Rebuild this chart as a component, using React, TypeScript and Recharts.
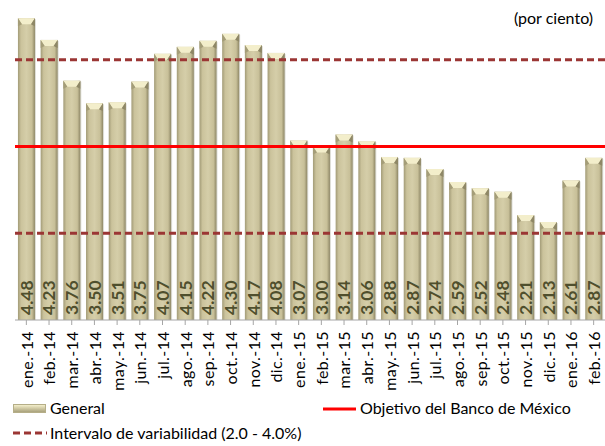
import { Bar, BarChart, LabelList, ReferenceLine, XAxis, YAxis } from "recharts";

const months = [
  "ene.-14", "feb.-14", "mar.-14", "abr.-14", "may.-14", "jun.-14", "jul.-14",
  "ago.-14", "sep.-14", "oct.-14", "nov.-14", "dic.-14", "ene.-15", "feb.-15",
  "mar.-15", "abr.-15", "may.-15", "jun.-15", "jul.-15", "ago.-15", "sep.-15",
  "oct.-15", "nov.-15", "dic.-15", "ene.-16", "feb.-16",
];
const general = [
  4.48, 4.23, 3.76, 3.5, 3.51, 3.75, 4.07, 4.15, 4.22, 4.3, 4.17, 4.08, 3.07,
  3.0, 3.14, 3.06, 2.88, 2.87, 2.74, 2.59, 2.52, 2.48, 2.21, 2.13, 2.61, 2.87,
];
const target = 3.0;
const band = [2.0, 4.0];

const data = months.map((month, i) => ({ month, general: general[i] }));

const FONT = "Lato, 'Open Sans', sans-serif";

// barra con efecto biselado, imitando el estilo de Excel
function BevelBar(props: any) {
  const { x, y, width, height } = props;
  if (!height || height <= 0) return null;
  const bev = Math.min(6, height);
  return (
    <g>
      <rect x={x + 1} y={y + 1} width={width} height={height - 1} fill="#bdbdb0" opacity={0.5} />
      <rect x={x} y={y} width={width} height={height} fill="url(#barGrad)" />
      <path
        d={`M${x},${y} L${x + width},${y} L${x + width - 4},${y + bev} L${x + 4},${y + bev} Z`}
        fill="#f3eecb"
      />
      <path d={`M${x},${y} L${x + 4},${y + bev} L${x},${y + bev + 2} Z`} fill="#a49d78" />
      <path
        d={`M${x + width},${y} L${x + width - 4},${y + bev} L${x + width},${y + bev + 2} Z`}
        fill="#8e8766"
      />
    </g>
  );
}

function ValueLabel(props: any) {
  const { x, y, width, height, value } = props;
  const cx = x + width / 2;
  const by = y + height - 5;
  return (
    <text
      x={cx}
      y={by}
      transform={`rotate(-90 ${cx} ${by})`}
      textAnchor="start"
      dy="0.36em"
      fontFamily={FONT}
      fontWeight={700}
      fontSize={17.5}
      fill="#4f4f2d"
    >
      {Number(value).toFixed(2)}
    </text>
  );
}

function MonthTick(props: any) {
  const { x, y, payload } = props;
  const ty = y + 4;
  return (
    <text
      x={x}
      y={ty}
      transform={`rotate(-90 ${x} ${ty})`}
      textAnchor="end"
      dy="0.4em"
      fontFamily={FONT}
      fontSize={16}
      letterSpacing={0.4}
      fill="#000"
    >
      {payload.value}
    </text>
  );
}

const legendText = { fontFamily: FONT, fontSize: 16, color: "#000", position: "absolute" as const };

export default function App() {
  return (
    <div style={{ position: "absolute", left: 0, top: 0, width: 605, height: 446, background: "#fff" }}>
      <BarChart
        width={605}
        height={446}
        data={data}
        margin={{ top: 16.5, right: 0, left: 15, bottom: 56 }}
        barCategoryGap="13%"
      >
        <defs>
          <linearGradient id="barGrad" x1="0" y1="0" x2="1" y2="0">
            <stop offset="0%" stopColor="#a29b77" />
            <stop offset="18%" stopColor="#cbc39c" />
            <stop offset="50%" stopColor="#d5cea9" />
            <stop offset="82%" stopColor="#c8c099" />
            <stop offset="100%" stopColor="#8f8867" />
          </linearGradient>
        </defs>
        <XAxis
          dataKey="month"
          height={70}
          interval={0}
          axisLine={{ stroke: "#a6a6a6" }}
          tickLine={{ stroke: "#a6a6a6" }}
          tickSize={5}
          tick={<MonthTick />}
        />
        <YAxis hide domain={[1, 4.5]} allowDataOverflow />
        <Bar dataKey="general" shape={<BevelBar />} isAnimationActive={false}>
          <LabelList dataKey="general" content={<ValueLabel />} />
        </Bar>
        <ReferenceLine y={band[1]} stroke="#9b3634" strokeWidth={3} strokeDasharray="7 4" />
        <ReferenceLine y={target} stroke="#ff0000" strokeWidth={3} />
        <ReferenceLine y={band[0]} stroke="#9b3634" strokeWidth={3} strokeDasharray="7 4" />
      </BarChart>

      <div style={{ ...legendText, right: 12, top: 8 }}>(por ciento)</div>

      <div
        style={{
          position: "absolute",
          left: 13,
          top: 404,
          width: 33,
          height: 9,
          background: "linear-gradient(#f3eecb, #d3cca6 45%, #a9a27d)",
          border: "1px solid #b5ae88",
          boxSizing: "border-box",
        }}
      />
      <div style={{ ...legendText, left: 50, top: 398 }}>General</div>

      <svg style={{ position: "absolute", left: 13, top: 429 }} width={34} height={8}>
        <line x1={0} y1={4} x2={34} y2={4} stroke="#9b3634" strokeWidth={3} strokeDasharray="7 4" />
      </svg>
      <div style={{ ...legendText, left: 50, top: 423 }}>Intervalo de variabilidad (2.0 - 4.0%)</div>

      <svg style={{ position: "absolute", left: 323, top: 405 }} width={33} height={8}>
        <line x1={0} y1={4} x2={33} y2={4} stroke="#ff0000" strokeWidth={3} />
      </svg>
      <div style={{ ...legendText, left: 360, top: 398 }}>Objetivo del Banco de México</div>
    </div>
  );
}
